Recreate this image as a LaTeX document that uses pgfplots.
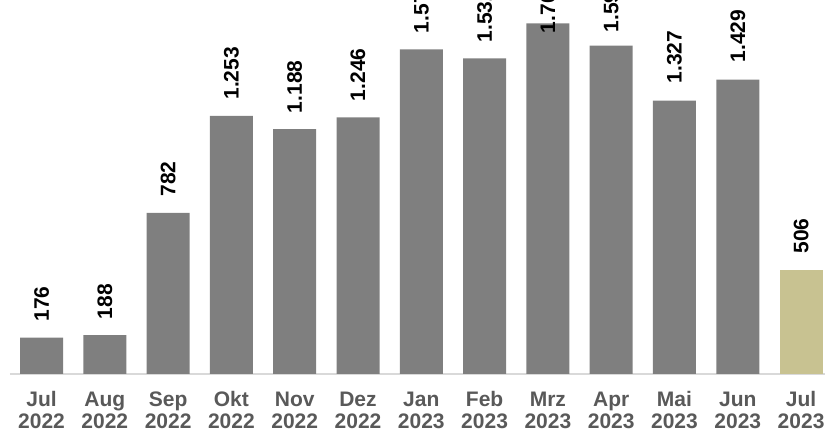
\documentclass[border=0pt]{standalone}
\usepackage{fontspec}
\setmainfont{Liberation Sans}
\usepackage{pgfplots}
\pgfplotsset{compat=1.18}
\definecolor{bargray}{HTML}{7F7F7F}
\definecolor{barkhaki}{HTML}{C8C291}
\definecolor{ticktext}{HTML}{595959}
\definecolor{axisline}{HTML}{D9D9D9}
\begin{document}
\begin{tikzpicture}
\begin{axis}[
  x=63.3bp, y=0.206bp,
  xmin=-0.5, xmax=12.5, ymin=0, ymax=1800,
  axis x line*=bottom, axis y line=none,
  x axis line style={draw=axisline, line width=1.5bp, -},
  xtick={0,...,12},
  xticklabels={\strut Jul\\2022,\strut Aug\\2022,\strut Sep\\2022,\strut Okt\\2022,\strut Nov\\2022,\strut Dez\\2022,\strut Jan\\2023,\strut Feb\\2023,\strut Mrz\\2023,\strut Apr\\2023,\strut Mai\\2023,\strut Jun\\2023,\strut Jul\\2023},
  xticklabel style={align=center, anchor=north, font=\fontsize{21bp}{22.5bp}\selectfont\bfseries, text=ticktext, inner sep=0pt, yshift=-16.5bp},
  major tick length=0pt,
  ytick=\empty,
  clip=false,
  ybar, bar width=43bp, bar shift=0pt,
  nodes near coords,
  visualization depends on={\thisrow{s} \as \lshift},
  nodes near coords style={yshift=\lshift bp, rotate=90, anchor=west, inner sep=0pt, font=\fontsize{21bp}{23bp}\selectfont\bfseries, text=black, /pgf/number format/assume math mode=true},
  /pgf/number format/.cd, 1000 sep={.}, fixed, precision=0,
]
\addplot[fill=bargray, draw=none] table[x=x, y=y] {
x y s
0 176 16
1 188 16
2 782 16
3 1253 16
4 1188 16
5 1246 16
6 1576 16
7 1532 16
8 1702 -10
9 1594 13
10 1327 17
11 1429 17
};
\addplot[fill=barkhaki, draw=none] table[x=x, y=y] {
x y s
12 506 16
};
\coordinate (bb1) at (axis cs:-0.656,-286);
\coordinate (bb2) at (axis cs:12.378,1815.5);
\end{axis}
\pgfresetboundingbox
\useasboundingbox (bb1) rectangle (bb2);
\end{tikzpicture}
\end{document}
